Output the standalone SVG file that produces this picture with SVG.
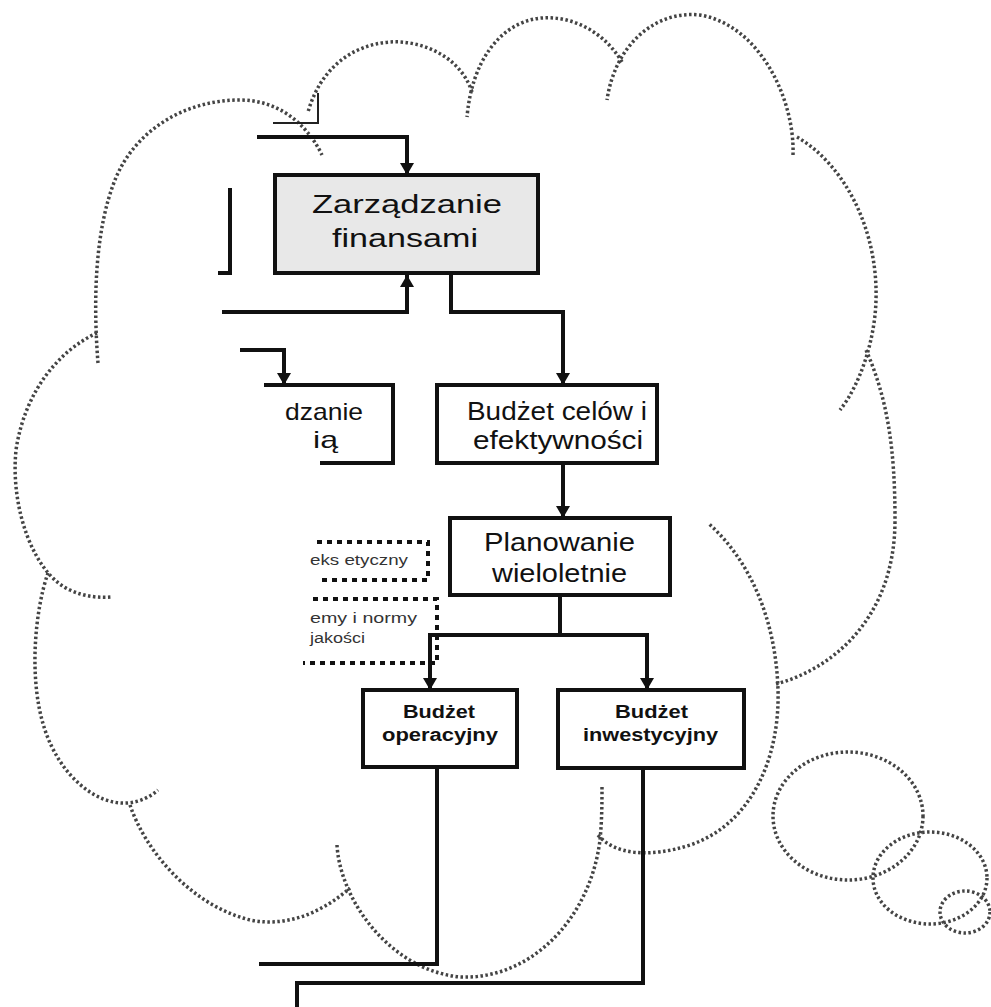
<svg xmlns="http://www.w3.org/2000/svg" width="991" height="1007" viewBox="0 0 991 1007">
<style>
.box{fill:#fff;stroke:#111;stroke-width:4}
.gbox{fill:#e8e8e8;stroke:#111;stroke-width:4}
.ln{fill:none;stroke:#111;stroke-width:4}
.thin{fill:none;stroke:#222;stroke-width:2}
.cl{fill:none;stroke:#444;stroke-width:3.5;stroke-dasharray:2.5 2.5}
.dot{fill:none;stroke:#111;stroke-width:4;stroke-dasharray:5 5}
.t{font-family:"Liberation Sans",Arial,sans-serif;font-size:26px;fill:#111}
.tb{font-family:"Liberation Sans",Arial,sans-serif;font-size:18px;font-weight:bold;fill:#111}
.ts{font-family:"Liberation Sans",Arial,sans-serif;font-size:14px;fill:#333}
</style>
<defs>
<marker id="arr" viewBox="0 0 12 14" markerWidth="12" markerHeight="14" refX="12" refY="7" orient="auto" markerUnits="userSpaceOnUse">
<path d="M0,0 L12,7 L0,14 z" fill="#111"/>
</marker>
</defs>
<rect width="991" height="1007" fill="#fff"/>
<g id="cloud">
<path class="cl" d="M98,363 C93,300 95,230 115,180 C135,130 185,100 240,100 C275,100 305,120 322,155"/>
<path class="cl" d="M97,333 C60,350 25,390 16,450 C10,510 35,575 70,590 C85,597 100,598 112,597"/>
<path class="cl" d="M48,573 C35,610 28,680 45,730 C60,775 95,805 127,803 C140,802 150,797 158,790"/>
<path class="cl" d="M130,805 C145,850 190,905 250,920 C290,928 325,910 350,888"/>
<path class="cl" d="M337,845 C340,900 390,970 460,977 C530,980 590,920 600,840 C602,820 602,800 602,787"/>
<path class="cl" d="M598,835 C615,855 650,858 690,845 C750,825 780,760 778,690 C776,620 750,560 708,523"/>
<path class="cl" d="M776,684 C830,670 895,620 895,520 C895,450 888,400 866,350"/>
<path class="cl" d="M797,137 C845,165 878,230 876,300 C875,340 860,385 840,410"/>
<path class="cl" d="M793,155 C795,100 760,25 700,15 C655,10 615,45 607,100"/>
<path class="cl" d="M622,62 C600,25 560,12 530,20 C500,28 472,60 467,117"/>
<path class="cl" d="M472,92 C460,55 420,40 390,42 C350,45 320,70 308,112"/>
<ellipse class="cl" cx="848" cy="816" rx="75" ry="64"/>
<ellipse class="cl" cx="930" cy="878" rx="57" ry="46"/>
<ellipse class="cl" cx="965" cy="912" rx="25" ry="21"/>
</g>
<g id="connectors">
<path class="thin" d="M273,123 H318 V93"/>
<path class="ln" d="M218,273 H230 V188"/>
<path class="ln" d="M257,137 H407 V175" marker-end="url(#arr)"/>
<path class="ln" d="M222,312 H407 V275" marker-end="url(#arr)"/>
<path class="ln" d="M451,275 V312 H563 V385" marker-end="url(#arr)"/>
<path class="ln" d="M240,350 H284 V385" marker-end="url(#arr)"/>
<path class="ln" d="M563,463 V518" marker-end="url(#arr)"/>
<path class="ln" d="M560,595 V635 M430,635 H647"/>
<path class="ln" d="M430,633 V690" marker-end="url(#arr)"/>
<path class="ln" d="M647,633 V690" marker-end="url(#arr)"/>
<path class="ln" d="M437,768 V964 H259"/>
<path class="ln" d="M643,768 V983 H297 V1007"/>
</g>
<g id="node-zarzadzanie-finansami">
<rect class="gbox" x="275" y="175" width="263" height="98"/>
<text class="t" x="312" y="213" textLength="190" lengthAdjust="spacingAndGlyphs">Zarządzanie</text>
<text class="t" x="332" y="247" textLength="146" lengthAdjust="spacingAndGlyphs">finansami</text>
</g>
<g id="node-zarzadzanie-partial">
<path class="ln" d="M264,385 H393 V463 H320"/>
<text class="t" x="285" y="420" font-size="24" style="font-size:24px" textLength="78" lengthAdjust="spacingAndGlyphs">dzanie</text>
<text class="t" x="313" y="448" font-size="24" style="font-size:24px" textLength="25" lengthAdjust="spacingAndGlyphs">ią</text>
</g>
<g id="node-budzet-celow">
<rect class="box" x="437" y="385" width="220" height="78"/>
<text class="t" x="467" y="420" textLength="180" lengthAdjust="spacingAndGlyphs">Budżet celów i</text>
<text class="t" x="473" y="449" textLength="170" lengthAdjust="spacingAndGlyphs">efektywności</text>
</g>
<g id="node-planowanie">
<rect class="box" x="450" y="518" width="220" height="77"/>
<text class="t" x="484" y="551" textLength="151" lengthAdjust="spacingAndGlyphs">Planowanie</text>
<text class="t" x="492" y="582" textLength="135" lengthAdjust="spacingAndGlyphs">wieloletnie</text>
</g>
<g id="node-kodeks">
<path class="dot" d="M317,542 H428 V580 H317"/>
<text class="ts" x="310" y="565" textLength="98" lengthAdjust="spacingAndGlyphs">eks etyczny</text>
</g>
<g id="node-normy">
<path class="dot" d="M313,599 H437 V663 H303"/>
<text class="ts" x="310" y="623" textLength="107" lengthAdjust="spacingAndGlyphs">emy i normy</text>
<text class="ts" x="310" y="643" textLength="55" lengthAdjust="spacingAndGlyphs">jakości</text>
</g>
<g id="node-budzet-operacyjny">
<rect class="box" x="363" y="690" width="154" height="77"/>
<text class="tb" x="403" y="718" textLength="72" lengthAdjust="spacingAndGlyphs">Budżet</text>
<text class="tb" x="382" y="741" textLength="116" lengthAdjust="spacingAndGlyphs">operacyjny</text>
</g>
<g id="node-budzet-inwestycyjny">
<rect class="box" x="558" y="690" width="186" height="78"/>
<text class="tb" x="615" y="718" textLength="73" lengthAdjust="spacingAndGlyphs">Budżet</text>
<text class="tb" x="583" y="741" textLength="135" lengthAdjust="spacingAndGlyphs">inwestycyjny</text>
</g>
</svg>
